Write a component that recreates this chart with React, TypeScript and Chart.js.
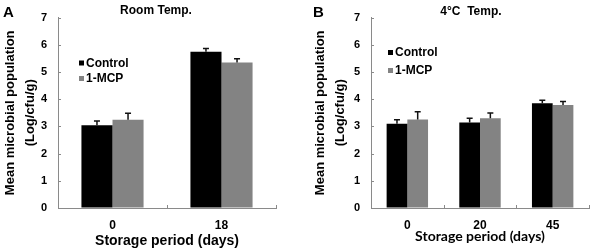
import React, { useEffect, useRef } from "react";
import { Chart, registerables } from "chart.js";

Chart.register(...registerables);

// ---------- data ----------
const catsA = ["0", "18"];
const controlA = [3.04, 5.74];
const controlErrA = [0.16, 0.12];
const mcpA = [3.24, 5.35];
const mcpErrA = [0.24, 0.14];

const catsB = ["0", "20", "45"];
const controlB = [3.1, 3.14, 3.85];
const controlErrB = [0.14, 0.16, 0.11];
const mcpB = [3.25, 3.3, 3.79];
const mcpErrB = [0.29, 0.19, 0.13];

const yTicks = [0, 1, 2, 3, 4, 5, 6, 7];
const seriesNames = ["Control", "1-MCP"];
const yTitle = ["Mean microbial population", "(Log/cfu/g)"];
const xTitle = "Storage period (days)";

const ARIAL = "'Liberation Sans', Arial, Helvetica, sans-serif";
const AXIS_COLOR = "#8a8a8a";
const COLORS = ["#000000", "#838383"];

type PanelCfg = {
  letter: string;
  title: string;
  cats: string[];
  control: number[];
  controlErr: number[];
  mcp: number[];
  mcpErr: number[];
  left: number;
  width: number;
  padLeft: number;
  padRight: number;
  yWidth: number;
  xTitleFont: any;
  xTitlePadBottom: number;
  titleDx: number;
  titleY: number;
  letterX: number;
  legendDx: number;
  legendY: number[];
};

const decorPlugin = {
  id: "decor",
  afterDatasetsDraw(chart: any, _args: any, opts: any) {
    const ctx = chart.ctx;
    const ys = chart.scales.y;
    // error bars
    chart.data.datasets.forEach((ds: any, i: number) => {
      const meta = chart.getDatasetMeta(i);
      meta.data.forEach((bar: any, j: number) => {
        const v = ds.data[j];
        const e = ds.errors[j];
        const base = ys.getPixelForValue(v);
        const top = ys.getPixelForValue(v + e);
        ctx.save();
        ctx.strokeStyle = "#111";
        ctx.lineWidth = 1.5;
        ctx.beginPath();
        ctx.moveTo(bar.x, base);
        ctx.lineTo(bar.x, top);
        ctx.moveTo(bar.x - 3, top);
        ctx.lineTo(bar.x + 3, top);
        ctx.stroke();
        ctx.restore();
      });
    });
  },
  afterDraw(chart: any, _args: any, opts: any) {
    const ctx = chart.ctx;
    const { left, top, bottom } = chart.chartArea;
    const xs = chart.scales.x;
    const ys = chart.scales.y;
    ctx.save();
    // inward ticks
    ctx.strokeStyle = AXIS_COLOR;
    ctx.lineWidth = 1;
    ctx.beginPath();
    ys.ticks.forEach((t: any) => {
      const py = Math.round(ys.getPixelForValue(t.value)) + 0.5;
      ctx.moveTo(left, py);
      ctx.lineTo(left + 3, py);
    });
    const n = chart.data.labels.length;
    for (let i = 1; i <= n; i++) {
      const px = Math.round(xs.getPixelForValue(i - 0.5)) + 0.5;
      ctx.moveTo(px, bottom);
      ctx.lineTo(px, bottom - 3);
    }
    ctx.stroke();
    // title
    ctx.fillStyle = "#000";
    ctx.textBaseline = "middle";
    ctx.textAlign = "center";
    ctx.font = `bold 12px ${ARIAL}`;
    ctx.fillText(opts.title, left + opts.titleDx, opts.titleY);
    // panel letter
    ctx.textAlign = "left";
    ctx.font = `bold 15px ${ARIAL}`;
    ctx.fillText(opts.letter, opts.letterX, 13);
    // legend
    ctx.font = `bold 12px ${ARIAL}`;
    chart.data.datasets.forEach((ds: any, i: number) => {
      const tx = left + opts.legendDx;
      const ty = opts.legendY[i];
      ctx.fillStyle = ds.backgroundColor;
      ctx.fillRect(tx - 7, ty - 3, 5, 5);
      ctx.fillStyle = "#000";
      ctx.fillText(ds.label, tx, ty);
    });
    ctx.restore();
  },
};

function Panel({ cfg }: { cfg: PanelCfg }) {
  const ref = useRef<HTMLCanvasElement | null>(null);
  useEffect(() => {
    if (!ref.current) return;
    const chart = new Chart(ref.current, {
      type: "bar",
      data: {
        labels: cfg.cats,
        datasets: [
          {
            label: seriesNames[0],
            data: cfg.control,
            errors: cfg.controlErr,
            backgroundColor: COLORS[0],
            borderWidth: 0,
            categoryPercentage: 0.57,
            barPercentage: 1,
          } as any,
          {
            label: seriesNames[1],
            data: cfg.mcp,
            errors: cfg.mcpErr,
            backgroundColor: COLORS[1],
            borderWidth: 0,
            categoryPercentage: 0.57,
            barPercentage: 1,
          } as any,
        ],
      },
      options: {
        animation: false,
        responsive: false,
        maintainAspectRatio: false,
        devicePixelRatio: 1,
        layout: {
          padding: { left: cfg.padLeft, right: cfg.padRight, top: 10, bottom: 0 },
        },
        plugins: {
          legend: { display: false },
          tooltip: { enabled: false },
          decor: {
            title: cfg.title,
            titleDx: cfg.titleDx,
            titleY: cfg.titleY,
            letter: cfg.letter,
            letterX: cfg.letterX,
            legendDx: cfg.legendDx,
            legendY: cfg.legendY,
          },
        } as any,
        scales: {
          x: {
            grid: { display: true, drawOnChartArea: false, drawTicks: false },
            border: { display: true, color: AXIS_COLOR, width: 1 },
            ticks: {
              color: "#000",
              padding: 10,
              font: { family: ARIAL, weight: "bold", size: 12 },
            },
            title: {
              display: true,
              text: xTitle,
              color: "#000",
              font: cfg.xTitleFont,
              padding: { top: 0, bottom: cfg.xTitlePadBottom },
            },
            afterFit: (s: any) => {
              s.height = 42;
            },
          },
          y: {
            min: 0,
            max: 7,
            grid: { display: true, drawOnChartArea: false, drawTicks: false },
            border: { display: true, color: AXIS_COLOR, width: 1 },
            afterBuildTicks: (s: any) => {
              s.ticks = yTicks.map((v) => ({ value: v }));
            },
            ticks: {
              color: "#000",
              padding: 11,
              font: { family: ARIAL, weight: "bold", size: 11 },
            },
            title: {
              display: true,
              text: yTitle,
              color: "#000",
              font: { family: ARIAL, weight: "bold", size: 13, lineHeight: 1.58 },
              padding: { top: 0, bottom: 0 },
            },
            afterFit: (s: any) => {
              s.width = cfg.yWidth;
            },
          },
        },
      },
      plugins: [decorPlugin],
    });
    return () => chart.destroy();
  }, [cfg]);
  return (
    <canvas
      ref={ref}
      width={cfg.width}
      height={250}
      style={{ position: "absolute", left: cfg.left, top: 0, width: cfg.width, height: 250 }}
    />
  );
}

const panelA: PanelCfg = {
  letter: "A",
  title: "Room Temp.",
  cats: catsA,
  control: controlA,
  controlErr: controlErrA,
  mcp: mcpA,
  mcpErr: mcpErrA,
  left: 0,
  width: 296,
  padLeft: 0,
  padRight: 20,
  yWidth: 58,
  xTitleFont: { family: ARIAL, weight: "bold", size: 14 },
  xTitlePadBottom: 0,
  titleDx: 98,
  titleY: 11,
  letterX: 3,
  legendDx: 28,
  legendY: [63.5, 79],
};

const panelB: PanelCfg = {
  letter: "B",
  title: "4°C  Temp.",
  cats: catsB,
  control: controlB,
  controlErr: controlErrB,
  mcp: mcpB,
  mcpErr: mcpErrB,
  left: 296,
  width: 296,
  padLeft: 14,
  padRight: 3,
  yWidth: 61,
  xTitleFont: { family: "Lato, 'Open Sans', sans-serif", weight: "bold", size: 14 },
  xTitlePadBottom: 5,
  titleDx: 100,
  titleY: 12,
  letterX: 17,
  legendDx: 24,
  legendY: [53, 71],
};

export default function App() {
  return (
    <div style={{ position: "absolute", left: 0, top: 0, width: 592, height: 250, background: "#fff" }}>
      <Panel cfg={panelA} />
      <Panel cfg={panelB} />
    </div>
  );
}
